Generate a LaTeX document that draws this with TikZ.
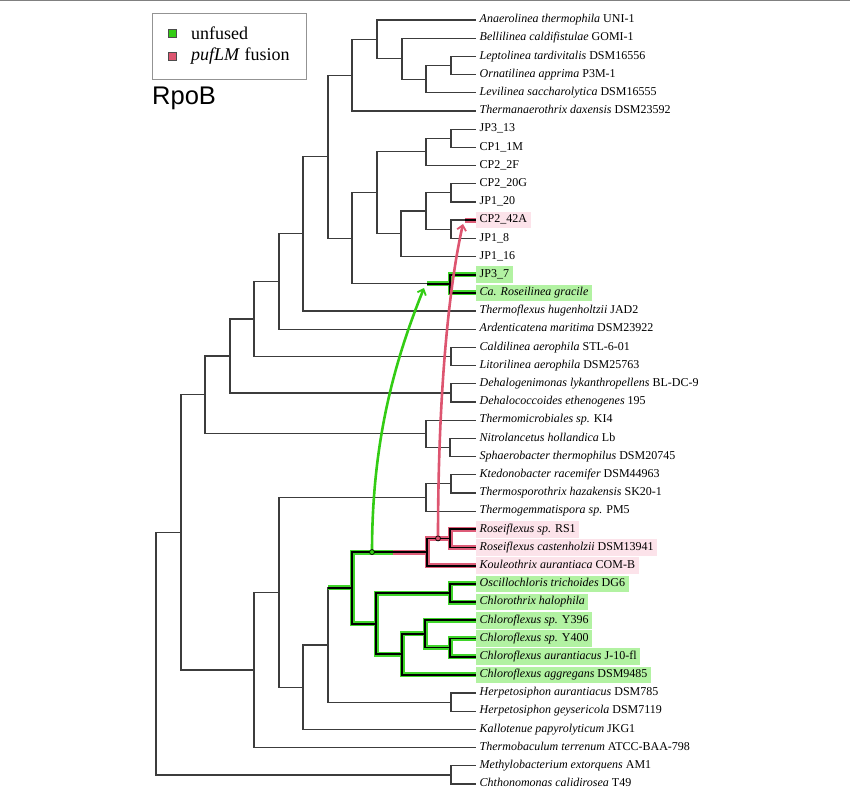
\documentclass[tikz,border=0pt]{standalone}
\usepackage{fontspec}
\setmainfont{Liberation Serif}
\newfontfamily\rposans{Liberation Sans}
\usetikzlibrary{arrows.meta}
\definecolor{treegray}{HTML}{3C3C3C}
\definecolor{halogreen}{HTML}{3FD52A}
\definecolor{labgreen}{HTML}{B2F2A2}
\definecolor{halored}{HTML}{DE5C78}
\definecolor{labpink}{HTML}{FCE3EA}
\definecolor{arrowgreen}{HTML}{33CC14}
\definecolor{arrowred}{HTML}{DD5570}
\begin{document}
\begin{tikzpicture}[x=1pt,y=-1pt,
  font=\fontsize{12}{14}\selectfont,
  leaf/.style={anchor=west, inner xsep=3.5pt, inner ysep=1pt, minimum height=16.5pt, text height=8.2pt, text depth=2.7pt},
  gleaf/.style={leaf, fill=labgreen},
  rleaf/.style={leaf, fill=labpink},
  branch/.style={draw=treegray, line width=1.2pt},
  hg/.style={draw=halogreen, line width=5pt},
  hr/.style={draw=halored, line width=5pt},
  hblack/.style={draw=black, line width=1.8pt},
  legsq/.style={draw=black!70, line width=0.5pt, minimum size=8.5pt, inner sep=0pt},
  legtext/.style={anchor=west, inner sep=0pt, font=\fontsize{18}{21}\selectfont},
  dotmark/.style={circle, draw=black, line width=0.7pt, inner sep=0pt, minimum size=5pt}
]
\useasboundingbox (0,0) rectangle (850,806);
\draw[gray, line width=1.2pt] (0,0.6) -- (850,0.6);

% legend
\node[draw=gray!85, line width=0.8pt, minimum width=154pt, minimum height=66pt, anchor=north west, inner sep=0pt] (legend) at (152,13) {};
\node[legsq, fill=arrowgreen] (sqg) at (172,33) {};
\node[legsq, fill=arrowred] (sqr) at (172,56) {};
\node[legtext] (tg) at (191,33) {unfused};
\node[legtext] (tr) at (191,56) {\textit{pufLM} fusion};
\node[anchor=base west, inner sep=0pt, font=\rposans\fontsize{25.5}{30}\selectfont] (title) at (152,104) {RpoB};

% leaves
\node[leaf] (L1) at (476,20.00) {\textit{Anaerolinea thermophila} UNI-1};
\node[leaf] (L2) at (476,38.19) {\textit{Bellilinea caldifistulae} GOMI-1};
\node[leaf] (L3) at (476,56.38) {\textit{Leptolinea tardivitalis} DSM16556};
\node[leaf] (L4) at (476,74.57) {\textit{Ornatilinea apprima} P3M-1};
\node[leaf] (L5) at (476,92.76) {\textit{Levilinea saccharolytica} DSM16555};
\node[leaf] (L6) at (476,110.95) {\textit{Thermanaerothrix daxensis} DSM23592};
\node[leaf] (L7) at (476,129.14) {JP3\_13};
\node[leaf] (L8) at (476,147.33) {CP1\_1M};
\node[leaf] (L9) at (476,165.52) {CP2\_2F};
\node[leaf] (L10) at (476,183.71) {CP2\_20G};
\node[leaf] (L11) at (476,201.90) {JP1\_20};
\node[rleaf] (L12) at (476,220.09) {CP2\_42A};
\node[leaf] (L13) at (476,238.28) {JP1\_8};
\node[leaf] (L14) at (476,256.47) {JP1\_16};
\node[gleaf] (L15) at (476,274.66) {JP3\_7};
\node[gleaf] (L16) at (476,292.85) {\textit{Ca. Roseilinea gracile}};
\node[leaf] (L17) at (476,311.04) {\textit{Thermoflexus hugenholtzii} JAD2};
\node[leaf] (L18) at (476,329.23) {\textit{Ardenticatena maritima} DSM23922};
\node[leaf] (L19) at (476,347.42) {\textit{Caldilinea aerophila} STL-6-01};
\node[leaf] (L20) at (476,365.61) {\textit{Litorilinea aerophila} DSM25763};
\node[leaf] (L21) at (476,383.80) {\textit{Dehalogenimonas lykanthropellens} BL-DC-9};
\node[leaf] (L22) at (476,401.99) {\textit{Dehalococcoides ethenogenes} 195};
\node[leaf] (L23) at (476,420.18) {\textit{Thermomicrobiales sp.} KI4};
\node[leaf] (L24) at (476,438.37) {\textit{Nitrolancetus hollandica} Lb};
\node[leaf] (L25) at (476,456.56) {\textit{Sphaerobacter thermophilus} DSM20745};
\node[leaf] (L26) at (476,474.75) {\textit{Ktedonobacter racemifer} DSM44963};
\node[leaf] (L27) at (476,492.94) {\textit{Thermosporothrix hazakensis} SK20-1};
\node[leaf] (L28) at (476,511.13) {\textit{Thermogemmatispora sp.} PM5};
\node[rleaf] (L29) at (476,529.32) {\textit{Roseiflexus sp.} RS1};
\node[rleaf] (L30) at (476,547.51) {\textit{Roseiflexus castenholzii} DSM13941};
\node[rleaf] (L31) at (476,565.70) {\textit{Kouleothrix aurantiaca} COM-B};
\node[gleaf] (L32) at (476,583.89) {\textit{Oscillochloris trichoides} DG6};
\node[gleaf] (L33) at (476,602.08) {\textit{Chlorothrix halophila}};
\node[gleaf] (L34) at (476,620.27) {\textit{Chloroflexus sp.} Y396};
\node[gleaf] (L35) at (476,638.46) {\textit{Chloroflexus sp.} Y400};
\node[gleaf] (L36) at (476,656.65) {\textit{Chloroflexus aurantiacus} J-10-fl};
\node[gleaf] (L37) at (476,674.84) {\textit{Chloroflexus aggregans} DSM9485};
\node[leaf] (L38) at (476,693.03) {\textit{Herpetosiphon aurantiacus} DSM785};
\node[leaf] (L39) at (476,711.22) {\textit{Herpetosiphon geysericola} DSM7119};
\node[leaf] (L40) at (476,729.41) {\textit{Kallotenue papyrolyticum} JKG1};
\node[leaf] (L41) at (476,747.60) {\textit{Thermobaculum terrenum} ATCC-BAA-798};
\node[leaf] (L42) at (476,765.79) {\textit{Methylobacterium extorquens} AM1};
\node[leaf] (L43) at (476,783.98) {\textit{Chthonomonas calidirosea} T49};

% internal nodes
\coordinate (a1) at (451,65.48);
\coordinate (a2) at (426,79.12);
\coordinate (a3) at (402,58.66);
\coordinate (a4) at (377,39.33);
\coordinate (a5) at (352,75.14);
\coordinate (b1) at (451,138.24);
\coordinate (b2) at (426,151.88);
\coordinate (b3) at (451,192.81);
\coordinate (b4) at (451,229.19);
\coordinate (b5) at (426,211.00);
\coordinate (b6) at (401,233.74);
\coordinate (b7) at (377,192.81);
\coordinate (c1) at (450,283.76);
\coordinate (c2) at (352,238.28);
\coordinate (a6) at (328,156.71);
\coordinate (d1) at (303,233.88);
\coordinate (d2) at (279,281.55);
\coordinate (e1) at (451,356.52);
\coordinate (d3) at (254,319.03);
\coordinate (e2) at (451,392.90);
\coordinate (d4) at (230,355.96);
\coordinate (f1) at (450,447.47);
\coordinate (f2) at (426,433.82);
\coordinate (d5) at (205,394.89);
\coordinate (g1) at (451,483.85);
\coordinate (g2) at (426,497.49);
\coordinate (h1) at (450,538.42);
\coordinate (h2) at (427,552.06);
\coordinate (i1) at (450,592.99);
\coordinate (j1) at (450,647.56);
\coordinate (j2) at (425,633.91);
\coordinate (j3) at (402,654.38);
\coordinate (i2) at (376,623.68);
\coordinate (k1) at (352,587.87);
\coordinate (m1) at (451,702.13);
\coordinate (k2) at (328,645.00);
\coordinate (k3) at (303,687.20);
\coordinate (g3) at (279,592.35);
\coordinate (k4) at (254,669.97);
\coordinate (r1) at (181,532.43);
\coordinate (n1) at (451,774.89);
\coordinate (root) at (156,653.66);
% helper points
\coordinate (gstart) at (427,283.76);
\coordinate (gmid) at (393,552.06);
\coordinate (rstub) at (465,220.09);
\coordinate (gc) at (372,552.06);
\coordinate (rc) at (438,538.42);
\coordinate (gtip) at (424,288);
\coordinate (rtip) at (463,224);

% tree
\draw[branch] (a1) |- (L3.west) (a1) |- (L4.west);
\draw[branch] (a2) |- (a1) (a2) |- (L5.west);
\draw[branch] (a3) |- (L2.west) (a3) |- (a2);
\draw[branch] (a4) |- (L1.west) (a4) |- (a3);
\draw[branch] (a5) |- (a4) (a5) |- (L6.west);
\draw[branch] (b1) |- (L7.west) (b1) |- (L8.west);
\draw[branch] (b2) |- (b1) (b2) |- (L9.west);
\draw[branch] (b3) |- (L10.west) (b3) |- (L11.west);
\draw[branch] (b4) |- (L12.west) (b4) |- (L13.west);
\draw[branch] (b5) |- (b3) (b5) |- (b4);
\draw[branch] (b6) |- (b5) (b6) |- (L14.west);
\draw[branch] (b7) |- (b2) (b7) |- (b6);
\draw[branch] (c1) |- (L15.west) (c1) |- (L16.west);
\draw[branch] (c2) |- (b7) (c2) |- (c1);
\draw[branch] (a6) |- (a5) (a6) |- (c2);
\draw[branch] (d1) |- (a6) (d1) |- (L17.west);
\draw[branch] (d2) |- (d1) (d2) |- (L18.west);
\draw[branch] (e1) |- (L19.west) (e1) |- (L20.west);
\draw[branch] (d3) |- (d2) (d3) |- (e1);
\draw[branch] (e2) |- (L21.west) (e2) |- (L22.west);
\draw[branch] (d4) |- (d3) (d4) |- (e2);
\draw[branch] (f1) |- (L24.west) (f1) |- (L25.west);
\draw[branch] (f2) |- (L23.west) (f2) |- (f1);
\draw[branch] (d5) |- (d4) (d5) |- (f2);
\draw[branch] (g1) |- (L26.west) (g1) |- (L27.west);
\draw[branch] (g2) |- (g1) (g2) |- (L28.west);
\draw[branch] (h1) |- (L29.west) (h1) |- (L30.west);
\draw[branch] (h2) |- (h1) (h2) |- (L31.west);
\draw[branch] (i1) |- (L32.west) (i1) |- (L33.west);
\draw[branch] (j1) |- (L35.west) (j1) |- (L36.west);
\draw[branch] (j2) |- (L34.west) (j2) |- (j1);
\draw[branch] (j3) |- (j2) (j3) |- (L37.west);
\draw[branch] (i2) |- (i1) (i2) |- (j3);
\draw[branch] (k1) |- (h2) (k1) |- (i2);
\draw[branch] (m1) |- (L38.west) (m1) |- (L39.west);
\draw[branch] (k2) |- (k1) (k2) |- (m1);
\draw[branch] (k3) |- (k2) (k3) |- (L40.west);
\draw[branch] (g3) |- (g2) (g3) |- (k3);
\draw[branch] (k4) |- (g3) (k4) |- (L41.west);
\draw[branch] (r1) |- (d5) (r1) |- (k4);
\draw[branch] (n1) |- (L42.west) (n1) |- (L43.west);
\draw[branch] (root) |- (r1) (root) |- (n1);

% highlighted branches
\foreach \gs/\rs in {hg/hr, hblack/hblack}{
  \draw[\gs] (c1) |- (L15.west) (c1) |- (L16.west) (gstart) -- (c1)
    (k2 |- k1) -- (k1) (k1) |- (gmid) (k1) |- (i2)
    (i2) |- (i1) (i1) |- (L32.west) (i1) |- (L33.west)
    (i2) |- (j3) (j3) |- (j2) (j2) |- (L34.west) (j2) |- (j1)
    (j1) |- (L35.west) (j1) |- (L36.west) (j3) |- (L37.west);
  \draw[\rs] (gmid) -- (h2) (h2) |- (h1) (h1) |- (L29.west) (h1) |- (L30.west)
    (h2) |- (L31.west) (rstub) -- (L12.west);
}

% arrows
\draw[arrowgreen, line width=2.6pt, -{Straight Barb[length=5pt,width=9pt,line width=1.8pt]}]
  (gc) .. controls (372,440) and (395,360) .. (gtip);
\draw[arrowred, line width=2.6pt, -{Straight Barb[length=5pt,width=9pt,line width=1.8pt]}]
  (rc) .. controls (438,400) and (448,290) .. (rtip);
\node[dotmark, fill=arrowgreen] (gdot) at (gc) {};
\node[dotmark, fill=arrowred] (rdot) at (rc) {};
\end{tikzpicture}
\end{document}
